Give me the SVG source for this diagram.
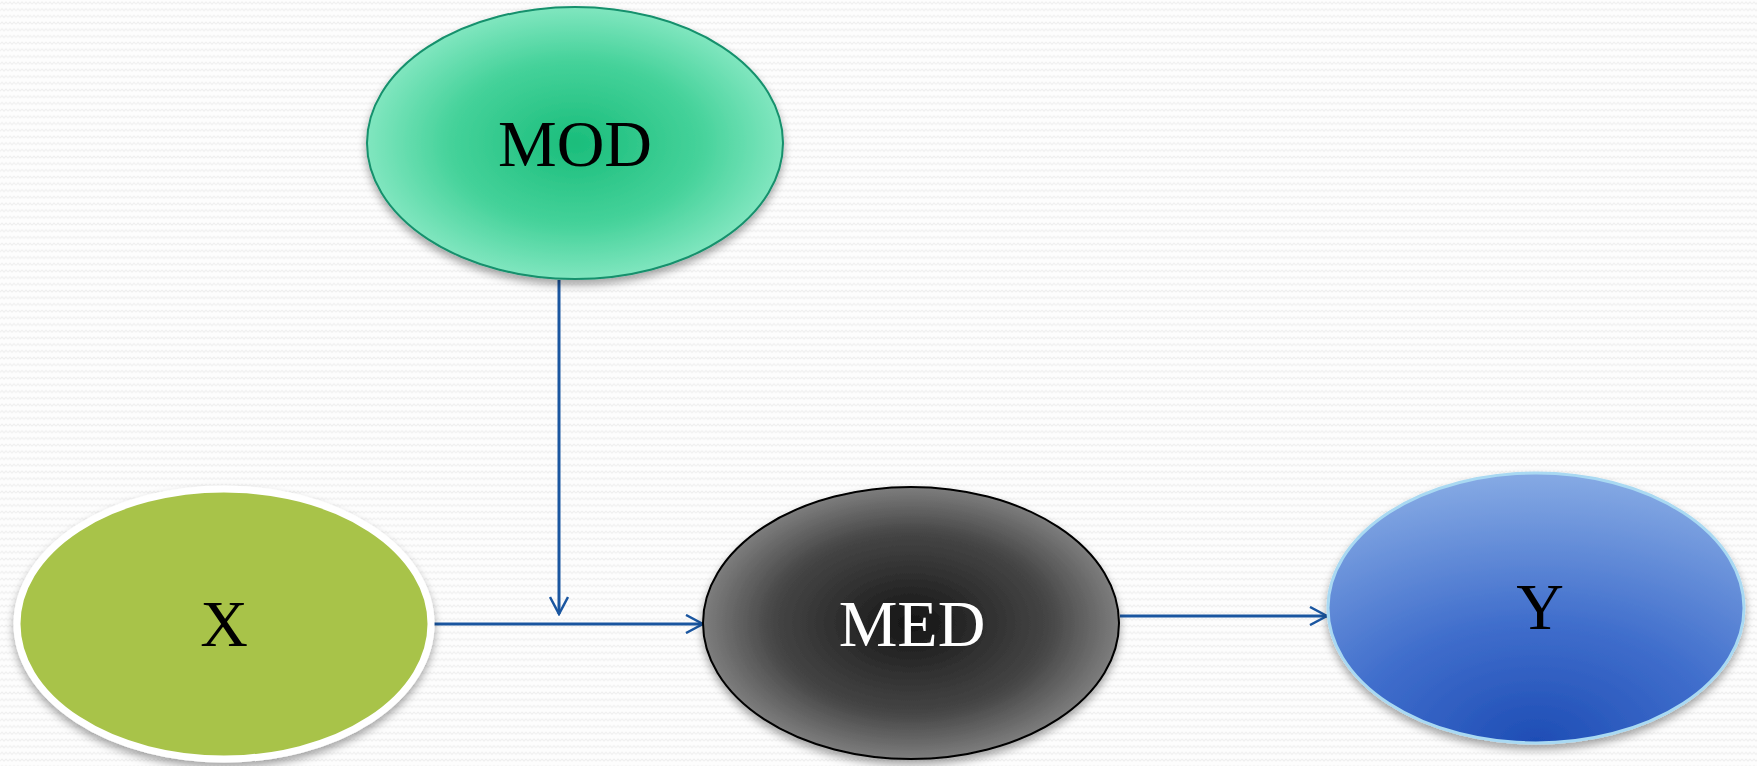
<svg xmlns="http://www.w3.org/2000/svg" width="1757" height="766" viewBox="0 0 1757 766">
<defs>
<pattern id="bg" width="8" height="6.7" patternUnits="userSpaceOnUse">
<rect width="8" height="6.7" fill="#fdfdfd"/>
<path d="M0,4 L2,2 L4,4 L6,2 L8,4" fill="none" stroke="#efefef" stroke-width="1"/>
</pattern>
<radialGradient id="gMod" cx="0.5" cy="0.5" r="0.5">
<stop offset="0" stop-color="#1abd7b"/>
<stop offset="0.6" stop-color="#45d29a"/>
<stop offset="1" stop-color="#80e6bf"/>
</radialGradient>
<radialGradient id="gMed" cx="0.5" cy="0.5" r="0.55">
<stop offset="0" stop-color="#151515"/>
<stop offset="0.6" stop-color="#454545"/>
<stop offset="1" stop-color="#8e8e8e"/>
</radialGradient>
<radialGradient id="gY" cx="0.5" cy="1" r="1" fx="0.5" fy="1">
<stop offset="0" stop-color="#1e4db5"/>
<stop offset="0.45" stop-color="#406ecc"/>
<stop offset="1" stop-color="#86aae4"/>
</radialGradient>
<filter id="sh" x="-10%" y="-10%" width="120%" height="130%">
<feDropShadow dx="0" dy="5" stdDeviation="4" flood-color="#000" flood-opacity="0.35"/>
</filter>
<marker id="arr" viewBox="0 0 20 20" refX="18" refY="10" markerWidth="20" markerHeight="20" markerUnits="userSpaceOnUse" orient="auto">
<path d="M1,1 L18,10 L1,19" fill="none" stroke="#1a56a0" stroke-width="2.5"/>
</marker>
<style>
.lbl{font-family:"Liberation Serif","Times New Roman",serif;font-size:66px;text-anchor:middle}
.conn{stroke:#1a56a0;stroke-width:3;fill:none}
</style>
</defs>
<rect width="1757" height="766" fill="url(#bg)"/>
<g id="connectors">
<line class="conn" x1="559" y1="280" x2="559" y2="614" marker-end="url(#arr)"/>
<line class="conn" x1="432" y1="624" x2="703" y2="624" marker-end="url(#arr)"/>
<line class="conn" x1="1120" y1="616" x2="1327" y2="616" marker-end="url(#arr)"/>
</g>
<g id="node-mod">
<ellipse cx="575" cy="143" rx="208" ry="136" fill="url(#gMod)" stroke="#14906c" stroke-width="2" filter="url(#sh)"/>
<text class="lbl" x="575" y="166" fill="#000">MOD</text>
</g>
<g id="node-x">
<ellipse cx="224" cy="624" rx="207" ry="135" fill="#a8c34a" stroke="#ffffff" stroke-width="7" filter="url(#sh)"/>
<text class="lbl" x="224" y="646" fill="#000">X</text>
</g>
<g id="node-med">
<ellipse cx="911" cy="623" rx="208" ry="136" fill="url(#gMed)" stroke="#000" stroke-width="2" filter="url(#sh)"/>
<text class="lbl" x="912" y="646" fill="#fff">MED</text>
</g>
<g id="node-y">
<ellipse cx="1536" cy="608" rx="208" ry="135" fill="url(#gY)" stroke="#a9d9f2" stroke-width="3" filter="url(#sh)"/>
<text class="lbl" x="1540" y="629" fill="#000">Y</text>
</g>
</svg>
